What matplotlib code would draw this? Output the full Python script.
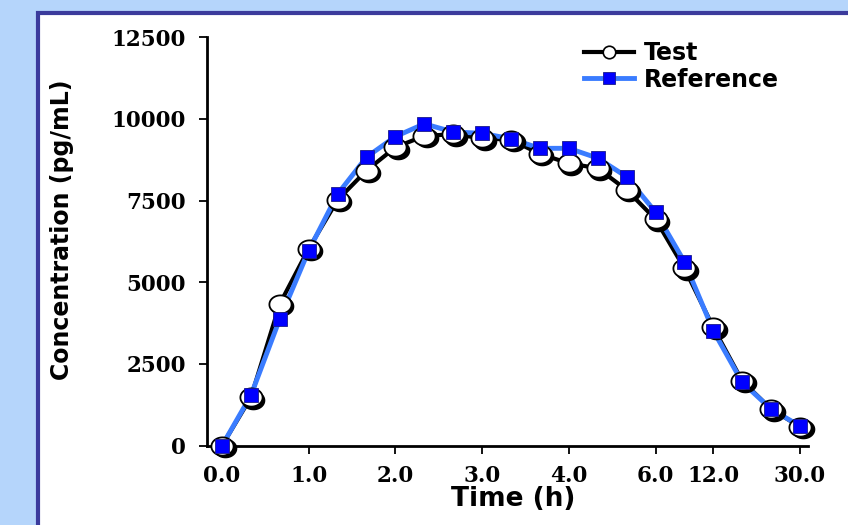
import numpy as np
import matplotlib
matplotlib.use("Agg")
import matplotlib.pyplot as plt
from matplotlib.patches import Rectangle
from matplotlib.path import Path
from matplotlib.lines import Line2D
from matplotlib.transforms import offset_copy

# ---- data ----
times = [0, 0.33, 0.67, 1.0, 1.33, 1.67, 2.0, 2.33, 2.67, 3.0, 3.33, 3.67,
         4.0, 4.5, 5.0, 6.0, 8.0, 12.0, 16.0, 24.0, 30.0]
test_conc = [0, 1480, 4340, 6030, 7520, 8420, 9130, 9480, 9530, 9410, 9360,
             8930, 8640, 8490, 7830, 6930, 5430, 3620, 1980, 1120, 580]
ref_conc = [0, 1540, 3880, 5970, 7700, 8830, 9460, 9850, 9600, 9560, 9390,
            9100, 9100, 8800, 8230, 7150, 5630, 3520, 1940, 1120, 600]
tick_times = [0.0, 1.0, 2.0, 3.0, 4.0, 6.0, 12.0, 30.0]
tick_labels = ["0.0", "1.0", "2.0", "3.0", "4.0", "6.0", "12.0", "30.0"]
y_ticks = [0, 2500, 5000, 7500, 10000, 12500]

W, H = 848, 525
fig = plt.figure(figsize=(W / 100, H / 100), dpi=100)
fig.patch.set_facecolor("#b5d5fb")

# white panel with dark blue border
panel = Rectangle((38 / W, -0.1), 1.2, 1 - 13 / H + 0.1, transform=fig.transFigure,
                  facecolor="white", edgecolor="#3b3b9c", lw=3, zorder=-10)
fig.patches.append(panel)

left, right = 207, 808
top, bottom = 37.2, 445.7
ax = fig.add_axes([left / W, 1 - bottom / H, (right - left) / W, (bottom - top) / H])
ax.set_zorder(5)
ax.set_facecolor("none")

x = np.arange(len(times))
n = len(times)
# x range: index 0 at px 222, index 20 at px 800
ppi = (800 - 222) / (n - 1)
ax.set_xlim(-(222 - left) / ppi, (n - 1) + (right - 800) / ppi)
ax.set_ylim(0, 12500)

# elliptical marker (slightly wider than tall)
th = np.linspace(0, 2 * np.pi, 60)
ell = Path(np.column_stack([np.cos(th), 0.82 * np.sin(th)]), closed=True)

ax.plot(x, test_conc, color="black", lw=3, zorder=2, clip_on=False)
ax.plot(x, ref_conc, color="#3a7cff", lw=3.5, zorder=3, clip_on=False)
shadow = offset_copy(ax.transData, fig=fig, x=2.5, y=-2.5, units="dots")
ax.plot(x, test_conc, ls="none", marker=ell, ms=16, mfc="black", mec="black",
        transform=shadow, zorder=4, clip_on=False)
ax.plot(x, test_conc, ls="none", marker=ell, ms=16, mfc="white", mec="black",
        mew=1.3, zorder=5, clip_on=False)
ax.plot(x, ref_conc, ls="none", marker="s", ms=10, mfc="#0000ff", mec="#1a1a8a",
        mew=0.6, zorder=6, clip_on=False)

tick_pos = [times.index(t) for t in tick_times]
ax.set_xticks(tick_pos)
ax.set_xticklabels(tick_labels)
ax.set_yticks(y_ticks)
ax.set_yticklabels([str(v) for v in y_ticks])

for s in ["top", "right"]:
    ax.spines[s].set_visible(False)
for s in ["left", "bottom"]:
    ax.spines[s].set_linewidth(2)
    ax.spines[s].set_color("black")

ax.tick_params(axis="both", direction="out", width=1.3, length=6, color="black")
ax.tick_params(axis="y", pad=9)
ax.tick_params(axis="x", pad=8)
for lab in ax.get_xticklabels() + ax.get_yticklabels():
    lab.set_fontsize(15.5)
    lab.set_fontweight("bold")
    lab.set_fontfamily("DejaVu Serif")

ax.set_ylabel("Concentration (pg/mL)", fontsize=17, fontweight="bold")
ax.set_xlabel("Time (h)", fontsize=19, fontweight="bold")
ax.yaxis.set_label_coords((74 - left) / (right - left), (bottom - 230) / (bottom - top))
ax.xaxis.set_label_coords(0.51, (bottom - 486) / (bottom - top))

handles = [
    Line2D([], [], color="black", lw=3, marker="o", ms=9, mfc="white", mec="black", mew=1.2),
    Line2D([], [], color="#3a7cff", lw=3.5, marker="s", ms=9, mfc="#0000ff", mec="#1a1a8a", mew=0.6),
]
leg = ax.legend(handles, ["Test", "Reference"], loc="upper left",
                bbox_to_anchor=((584 - left) / (right - left), 0.99),
                frameon=False, borderpad=0, borderaxespad=0, handlelength=2.1,
                handletextpad=0.42, labelspacing=0.1,
                prop={"size": 17, "weight": "bold"})

fig.savefig("out.png", dpi=100, facecolor=fig.get_facecolor())
